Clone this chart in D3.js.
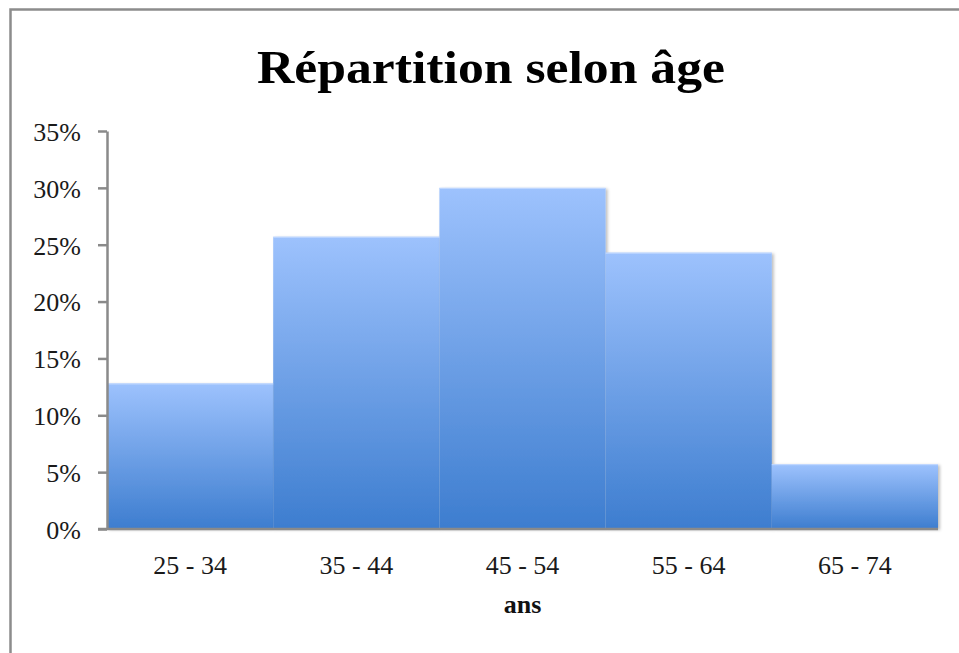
<!doctype html>
<html>
<head>
<meta charset="utf-8">
<style>
  body { margin: 0; background: #fff; }
  svg { display: block; }
  .tick text { font-family: "Liberation Serif", serif; fill: #1a1a1a; }
</style>
<script src="https://d3js.org/d3.v7.min.js"></script>
</head>
<body>
<svg width="959" height="653"></svg>
<script>
// data
var ageGroups = ["25 - 34", "35 - 44", "45 - 54", "55 - 64", "65 - 74"];
var shares = [0.128, 0.257, 0.300, 0.243, 0.057];
var yTicks = [0, 0.05, 0.10, 0.15, 0.20, 0.25, 0.30, 0.35];
var title = "Répartition selon âge";
var xTitle = "ans";

var svg = d3.select("svg");
var plotLeft = 107, plotRight = 938, plotTop = 131, plotBottom = 529;

// frame
svg.append("rect")
  .attr("x", 10.5).attr("y", 9.5)
  .attr("width", 980).attr("height", 700)
  .attr("fill", "none")
  .attr("stroke", "#8c8c8c")
  .attr("stroke-width", 2.5);

var defs = svg.append("defs");
var grad = defs.append("linearGradient")
  .attr("id", "barGrad")
  .attr("x1", 0).attr("y1", 0).attr("x2", 0).attr("y2", 1);
grad.append("stop").attr("offset", "0%").attr("stop-color", "#9dc2fd");
grad.append("stop").attr("offset", "100%").attr("stop-color", "#3d7dcf");

var shadow = defs.append("filter").attr("id", "shadow")
  .attr("x", "-5%").attr("y", "-5%").attr("width", "115%").attr("height", "115%");
shadow.append("feDropShadow")
  .attr("dx", 2).attr("dy", 1).attr("stdDeviation", 1.5)
  .attr("flood-color", "#000").attr("flood-opacity", 0.25);

var x = d3.scaleBand().domain(ageGroups).range([plotLeft, plotRight]).padding(0);
var y = d3.scaleLinear().domain([0, 0.35]).range([plotBottom, plotTop]);

// bars
svg.append("g").selectAll("rect")
  .data(shares)
  .enter().append("rect")
  .attr("x", function(d, i) { return x(ageGroups[i]); })
  .attr("y", function(d) { return y(d); })
  .attr("width", x.bandwidth())
  .attr("height", function(d) { return plotBottom - y(d); })
  .attr("fill", "url(#barGrad)")
  .attr("filter", "url(#shadow)");

// top highlight
svg.append("g").selectAll("line")
  .data(shares)
  .enter().append("line")
  .attr("x1", function(d, i) { return x(ageGroups[i]); })
  .attr("x2", function(d, i) { return x(ageGroups[i]) + x.bandwidth(); })
  .attr("y1", function(d) { return y(d) + 0.5; })
  .attr("y2", function(d) { return y(d) + 0.5; })
  .attr("stroke", "#c4daff")
  .attr("stroke-width", 1);

// y axis
var yAxis = svg.append("g")
  .attr("transform", "translate(" + plotLeft + ",0)")
  .call(d3.axisLeft(y).tickValues(yTicks).tickFormat(d3.format(".0%")).tickSize(9).tickSizeOuter(0).tickPadding(17));
yAxis.selectAll("line, path").attr("stroke", "#8a8a8a").attr("stroke-width", 2.5);
yAxis.selectAll("text").attr("font-size", 26).attr("dy", "0.36em");

// x axis
var xAxis = svg.append("g")
  .attr("transform", "translate(0," + plotBottom + ")")
  .call(d3.axisBottom(x).tickSize(0).tickSizeOuter(0).tickPadding(27));
xAxis.select("path").attr("d", "M" + (plotLeft - 9) + ",0H" + plotRight)
  .attr("stroke", "#8a8a8a").attr("stroke-width", 2.5);
xAxis.selectAll("text").attr("font-size", 26).attr("dy", "0.71em");

// titles
svg.append("text")
  .attr("x", 491).attr("y", 83)
  .attr("text-anchor", "middle")
  .attr("font-family", "Liberation Serif, serif")
  .attr("font-weight", "bold")
  .attr("font-size", 46)
  .attr("textLength", 468)
  .attr("lengthAdjust", "spacingAndGlyphs")
  .attr("fill", "#000")
  .text(title);

svg.append("text")
  .attr("x", (plotLeft + plotRight) / 2).attr("y", 613)
  .attr("text-anchor", "middle")
  .attr("font-family", "Liberation Serif, serif")
  .attr("font-weight", "bold")
  .attr("font-size", 26)
  .attr("fill", "#111")
  .text(xTitle);
</script>
</body>
</html>
